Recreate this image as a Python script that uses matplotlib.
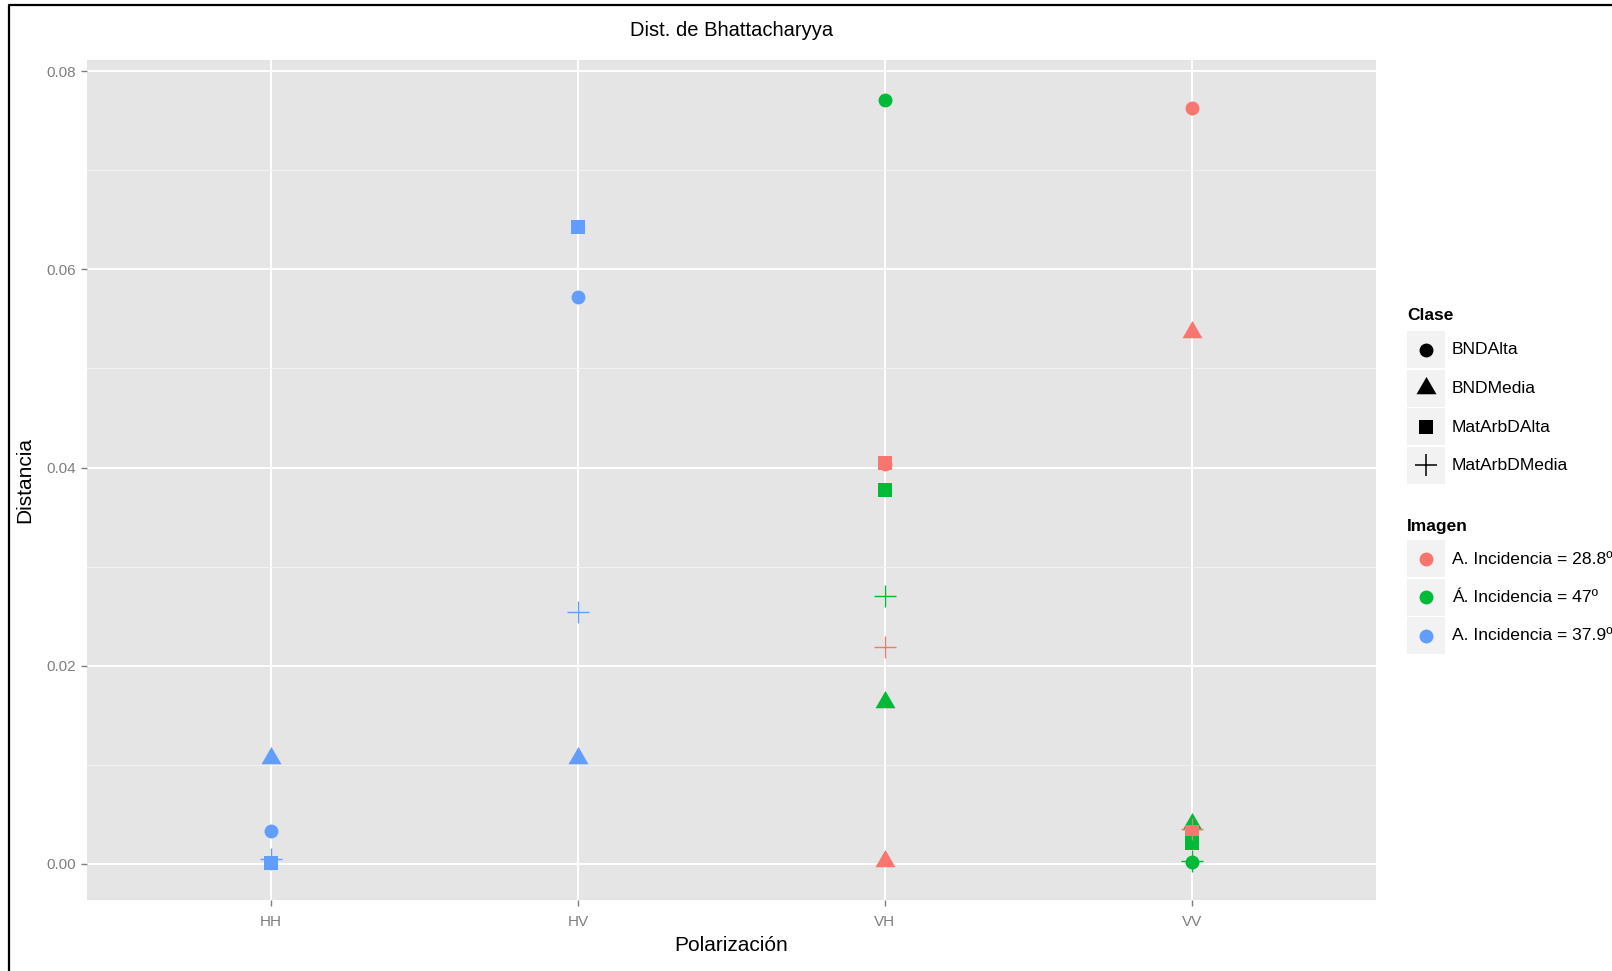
import matplotlib
matplotlib.use('Agg')
import matplotlib.pyplot as plt
from matplotlib.path import Path
from matplotlib.lines import Line2D
from matplotlib.patches import Rectangle
import numpy as np

plt.rcParams['font.family'] = ['Liberation Sans', 'DejaVu Sans']

# ---------------- data ----------------
polarizaciones = ['HH', 'HV', 'VH', 'VV']
clases = ['BNDAlta', 'BNDMedia', 'MatArbDAlta', 'MatArbDMedia']
imagenes = ['A. Incidencia = 28.8º', 'Á. Incidencia = 47º', 'A. Incidencia = 37.9º']
colores = ['#F8766D', '#00BA38', '#619CFF']
y_ticks = [0.00, 0.02, 0.04, 0.06, 0.08]

# values in class order: BNDAlta, BNDMedia, MatArbDAlta, MatArbDMedia
img288_VH = [0.0404, 0.0003, 0.0405, 0.0219]
img288_VV = [0.0763, 0.0537, 0.0032, 0.0035]
img47_VH = [0.0771, 0.0163, 0.0377, 0.0270]
img47_VV = [0.0002, 0.0040, 0.0021, 0.0003]
img379_HH = [0.0033, 0.0107, 0.0001, 0.0005]
img379_HV = [0.0572, 0.0107, 0.0643, 0.0254]

series = [
    (0, 'VH', img288_VH), (0, 'VV', img288_VV),
    (1, 'VH', img47_VH), (1, 'VV', img47_VV),
    (2, 'HH', img379_HH), (2, 'HV', img379_HV),
]

# ---------------- styling ----------------
tri = Path([(-1, -0.57735), (1, -0.57735), (0, 1.1547), (-1, -0.57735)],
           [Path.MOVETO, Path.LINETO, Path.LINETO, Path.CLOSEPOLY])
markers = ['o', tri, 's', '+']
sizes = [100, 276, 88, 256]

W, H = 1612, 971
fig = plt.figure(figsize=(W / 100, H / 100), dpi=100)
px_l, px_r, px_t, px_b = 87, 1376, 60, 900
ax = fig.add_axes([px_l / W, 1 - px_b / H, (px_r - px_l) / W, (px_b - px_t) / H])
ax.set_facecolor('#E5E5E5')
for s in ax.spines.values():
    s.set_visible(False)

ax.set_xlim(0.4, len(polarizaciones) + 0.6)
ax.set_ylim(-0.003632, 0.08111)
ax.set_xticks(np.arange(1, len(polarizaciones) + 1))
ax.set_xticklabels(polarizaciones)
ax.set_yticks(y_ticks)
ax.set_yticklabels(['%.2f' % v for v in y_ticks])
ax.set_yticks([0.01, 0.03, 0.05, 0.07], minor=True)
ax.set_axisbelow(True)
ax.grid(which='minor', axis='y', color='#F2F2F2', lw=0.8)
ax.grid(which='major', color='white', lw=1.4)
ax.tick_params(which='major', length=4, width=1, color='#7F7F7F',
               labelcolor='#7F7F7F', labelsize=11, pad=4)
ax.tick_params(axis='x', pad=7)
ax.tick_params(which='minor', length=0)

# filled markers first, plus markers on top
for ci in range(len(clases)):
    for img, pol, vals in series:
        x = polarizaciones.index(pol) + 1
        if markers[ci] == '+':
            continue
        ax.scatter([x], [vals[ci]], marker=markers[ci], s=sizes[ci],
                   color=colores[img], linewidths=0, zorder=3)
for img, pol, vals in series:
    x = polarizaciones.index(pol) + 1
    ax.scatter([x], [vals[3]], marker='+', s=sizes[3], color=colores[img],
               linewidths=1.0, zorder=4)

# titles
cx = (px_l + px_r) / 2 / W
fig.text(cx, 1 - 30 / H, 'Dist. de Bhattacharyya', ha='center', va='center', fontsize=14.5)
fig.text(cx, 1 - 945 / H, 'Polarización', ha='center', va='center', fontsize=15)
fig.text(25 / W, 1 - 480 / H, 'Distancia', ha='center', va='center',
         rotation=90, fontsize=15)

# ---------------- legends (pixel overlay) ----------------
lax = fig.add_axes([0, 0, 1, 1], facecolor='none')
lax.set_xlim(0, W)
lax.set_ylim(H, 0)
lax.axis('off')

key_x0, key_w, key_h = 1407, 38, 38
lbl_x = 1452
lfs = 12.6

lax.text(key_x0, 316, 'Clase', fontsize=12.5, fontweight='bold', ha='left', va='center')
rows_c = [350, 388.5, 427, 465.5]
for i, c in enumerate(clases):
    yc = rows_c[i]
    lax.add_patch(Rectangle((key_x0, yc - key_h / 2 + 0.5), key_w, key_h - 1,
                            facecolor='#F2F2F2', edgecolor='none'))
    if markers[i] == '+':
        lax.scatter([key_x0 + key_w / 2], [yc], marker='+', s=sizes[i],
                    color='black', linewidths=1.1)
    else:
        lax.scatter([key_x0 + key_w / 2], [yc], marker=markers[i], s=sizes[i],
                    color='black', linewidths=0)
    lax.text(lbl_x, yc, c, fontsize=lfs, ha='left', va='center')

lax.text(key_x0, 527, 'Imagen', fontsize=12.5, fontweight='bold', ha='left', va='center')
rows_i = [559, 597.5, 636]
for i, lab in enumerate(imagenes):
    yc = rows_i[i]
    lax.add_patch(Rectangle((key_x0, yc - key_h / 2 + 0.5), key_w, key_h - 1,
                            facecolor='#F2F2F2', edgecolor='none'))
    lax.scatter([key_x0 + key_w / 2], [yc], marker='o', s=100,
                color=colores[i], linewidths=0)
    lax.text(lbl_x, yc, lab, fontsize=lfs, ha='left', va='center')

# outer border (left and top only, as in the cropped reference)
fig.add_artist(Line2D([9 / W, 9 / W, 1.0], [0.0, 1 - 5 / H, 1 - 5 / H],
                      transform=fig.transFigure, color='black', lw=1.6))

fig.savefig('out.png', dpi=100)
